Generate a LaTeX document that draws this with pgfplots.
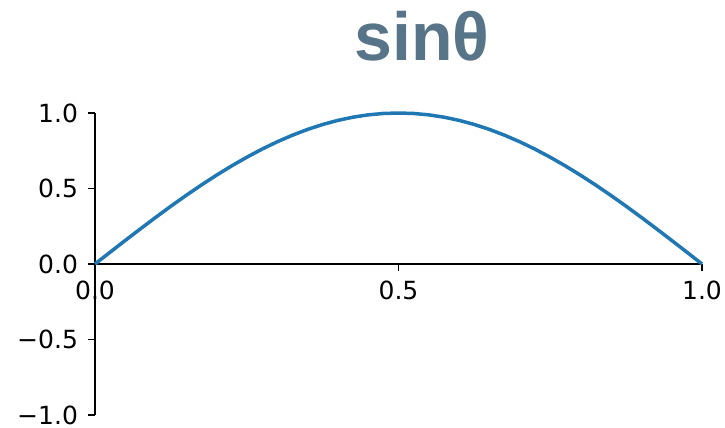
\documentclass[border=0pt]{standalone}
\usepackage{pgfplots}
\pgfplotsset{compat=1.18}
\usepackage{fontspec}
\setmainfont{DejaVu Sans}
\newfontfamily\titlefont{Liberation Sans}
\definecolor{tcol}{HTML}{587489}
\definecolor{mplblue}{HTML}{1F77B4}
\begin{document}
\begin{tikzpicture}
\begin{axis}[
 scale only axis, width=303.5pt, height=151pt,
 xmin=0, xmax=1, ymin=-1, ymax=1,
 axis x line=middle, axis y line=left,
 axis line style={-, line width=0.8pt, black},
 xtick={0,0.5,1}, xticklabels={0.0,0.5,1.0},
 ytick={-1,-0.5,0,0.5,1}, yticklabels={−1.0,−0.5,0.0,0.5,1.0},
 tick align=outside, major tick length=3.5pt,
 tick style={black, line width=0.8pt},
 ticklabel style={font=\fontsize{12.5}{15}\selectfont},
 yticklabel style={xshift=-1.5pt},
 xticklabel style={yshift=-1.5pt},
 hide obscured x ticks=false, hide obscured y ticks=false,
 clip=false,
 enlargelimits=false,
]
\addplot[mplblue, line width=1.75pt] coordinates {
(0,0) (0.025,0.0785) (0.05,0.1564) (0.075,0.2334) (0.1,0.3090)
(0.125,0.3827) (0.15,0.4540) (0.175,0.5225) (0.2,0.5878) (0.225,0.6494)
(0.25,0.7071) (0.275,0.7604) (0.3,0.8090) (0.325,0.8526) (0.35,0.8910)
(0.375,0.9239) (0.4,0.9511) (0.425,0.9724) (0.45,0.9877) (0.475,0.9969)
(0.5,1.0)
(0.525,0.9969) (0.55,0.9877) (0.575,0.9724) (0.6,0.9511) (0.625,0.9239)
(0.65,0.8910) (0.675,0.8526) (0.7,0.8090) (0.725,0.7604) (0.75,0.7071)
(0.775,0.6494) (0.8,0.5878) (0.825,0.5225) (0.85,0.4540) (0.875,0.3827)
(0.9,0.3090) (0.925,0.2334) (0.95,0.1564) (0.975,0.0785) (1,0)
};
\coordinate (A) at (rel axis cs:-0.1565,-0.0397);
\coordinate (B) at (rel axis cs:1.0379,1.3742);
\node[anchor=base, font=\titlefont\bfseries\fontsize{34}{38}\selectfont, text=tcol] at (rel axis cs:0.5387,1.1755) {sinθ};
\end{axis}
\pgfresetboundingbox
\useasboundingbox (A) rectangle (B);
\end{tikzpicture}
\end{document}
